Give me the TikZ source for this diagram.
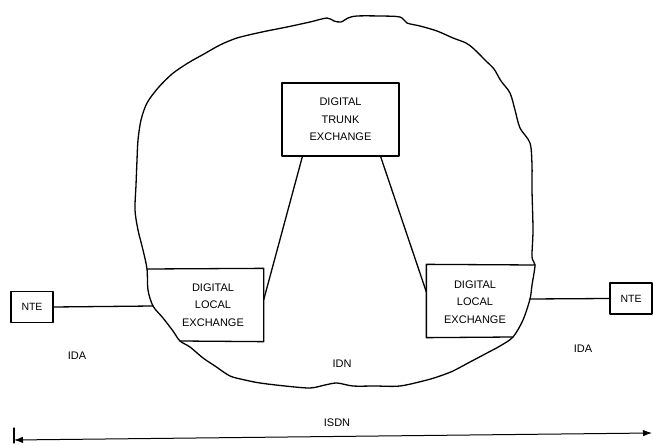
\documentclass[tikz,border=0pt]{standalone}
\usepackage{fontspec}
\setmainfont{Liberation Sans}
\usetikzlibrary{arrows.meta}
\begin{document}
\begin{tikzpicture}[x=1pt,y=-1pt,
  line width=1.3pt, line join=round, line cap=round,
  lbl/.style={font=\fontsize{11}{17.5}\selectfont, align=center, inner sep=0pt},
  exch/.style={rectangle, inner sep=0pt},
  ntebox/.style={draw, rectangle, inner sep=0pt, minimum width=42pt, minimum height=31pt, font=\fontsize{10.5}{12}\selectfont},
  trunkbox/.style={draw, rectangle, inner sep=0pt, minimum width=117pt, minimum height=73pt, align=center, font=\fontsize{11}{17.5}\selectfont},
  span/.style={{Latex[length=9pt,width=6.5pt]}-{Latex[length=9pt,width=6.5pt]}}
]
\useasboundingbox (0,0) rectangle (653,446);

% exchanges
\node[trunkbox] (dte) at (340.5,119.5) {DIGITAL\\TRUNK\\EXCHANGE};
\node[exch, minimum width=116pt, minimum height=72pt] (leL) at (205,305) {};
\node[exch, minimum width=108pt, minimum height=72pt] (leR) at (481,301) {};
\node[lbl] (leLt) at (213,305) {DIGITAL\\LOCAL\\EXCHANGE};
\node[lbl] (leRt) at (475,302) {DIGITAL\\LOCAL\\EXCHANGE};

% terminal equipment
\node[ntebox] (nteL) at (32,307) {NTE};
\node[ntebox] (nteR) at (631,298.5) {NTE};

% points where the network boundary meets the local exchanges
\coordinate (tlL) at (147,269);
\coordinate (bL)  at (153,306);
\coordinate (blL) at (180,341);
\coordinate (trR) at (535,265);
\coordinate (bR)  at (530,299);
\coordinate (brR) at (513,337);

% integrated digital network boundary
\draw plot[smooth cycle, tension=0.5] coordinates {
  (138,140) (141,120) (147,103) (158,88) (172,74) (188,63) (204,54)
  (220,45) (237,38) (262,32) (287,27) (310,22) (327,18) (334,21)
  (341,22) (348,18) (357,16) (380,16) (400,17) (407,23) (420,26)
  (437,31) (453,38) (466,43) (474,49) (486,61) (494,69) (501,81)
  (510,93) (515,110) (520,128) (530,143) (532,165) (532,190)
  (533,230) (532,257) (trR) (532,285) (bR) (523,320) (brR)
  (500,346) (487,353) (470,362) (453,371) (440,376) (427,380)
  (400,386) (375,386) (353,386) (337,383) (325,385) (310,388)
  (285,386) (260,383) (245,380) (230,376) (215,366) (203,358)
  (190,347) (blL) (173,331) (163,318) (bL) (148,290) (tlL)
  (143,250) (138,230) (135,210) (136,185) (137,160)};

% local exchange outlines, closed on one side by the boundary
\draw (tlL) -- (leL.north east) -- (leL.south east) -- (blL);
\draw (trR) -- (leR.north west) -- (leR.south west) -- (brR);

% links
\draw (nteL.east) -- (bL);
\draw (bR) -- (nteR.west);
\draw ([xshift=21pt]dte.south west) -- ([yshift=5pt]leL.east);
\draw ([xshift=-19pt]dte.south east) -- ([yshift=9pt]leR.west);

% area labels
\node[lbl] (idaL) at (77,356) {IDA};
\node[lbl] (idn) at (342,364) {IDN};
\node[lbl] (idaR) at (583,349) {IDA};

% overall extent
\node[lbl] (isdn) at (337,423) {ISDN};
\coordinate (sL) at (14,440);
\coordinate (sR) at (652,433);
\draw ([yshift=12pt]sL) -- ([yshift=-3pt]sL);
\draw[span, line width=1pt] (sL) -- (sR);
\end{tikzpicture}
\end{document}
